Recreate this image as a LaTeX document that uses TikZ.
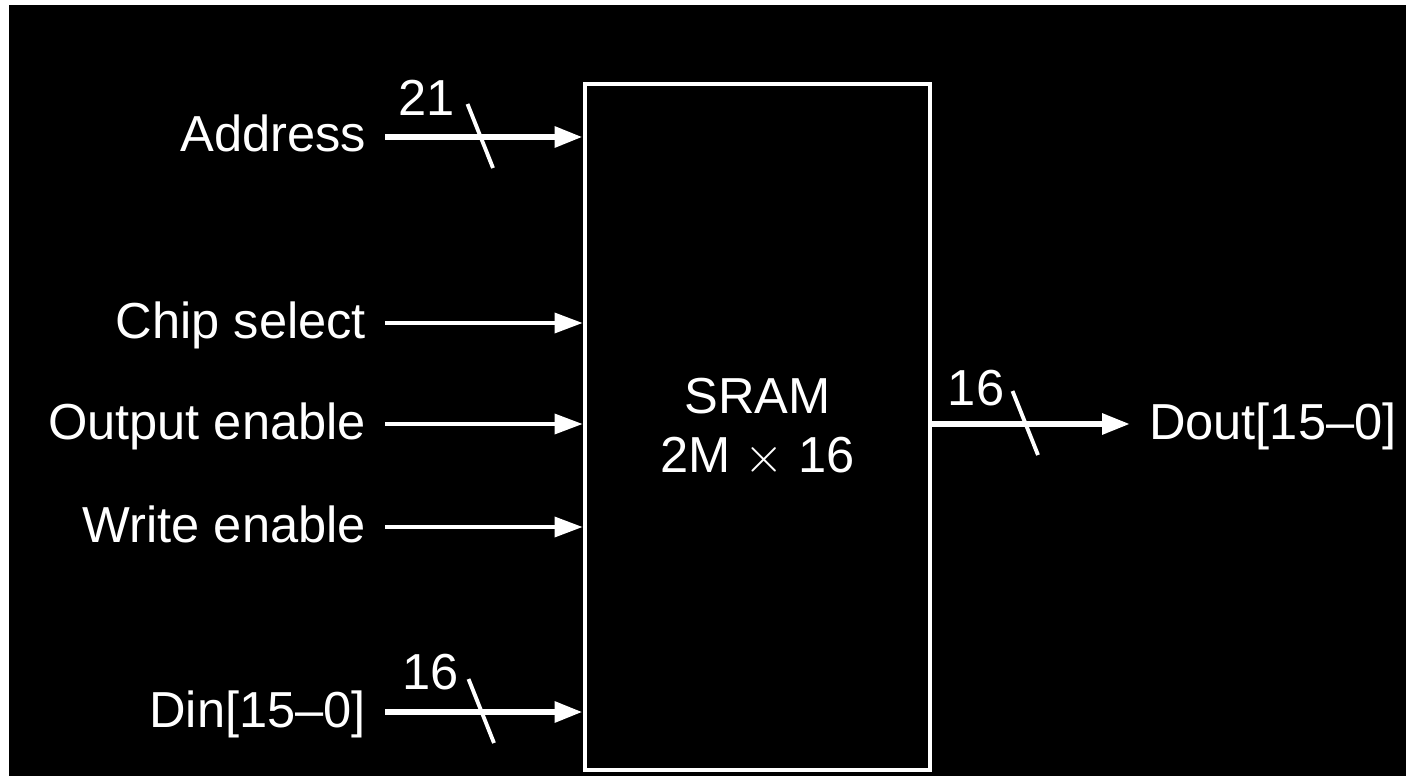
\documentclass[tikz,border=0pt]{standalone}
\usepackage{fontspec}
\setmainfont{Liberation Sans}
\usetikzlibrary{arrows.meta}

\begin{document}
\begin{tikzpicture}[>={Triangle[length=2.8mm,width=2mm]},
  lbl/.style={text=white, inner sep=0pt, outer xsep=1.9mm, text height=3.6mm, text depth=0.6mm, font=\fontsize{14.4}{17}\selectfont},
  num/.style={text=white, inner sep=0pt, font=\fontsize{14.4}{17}\selectfont},
  bus/.style={white, line width=1.7pt},
  sig/.style={white, line width=1pt},
  tick/.style={white, line width=1.1pt}]

  % 背景
  \fill[white] (0,0) rectangle (14.06,7.76);
  \fill[black] (0.09,0) rectangle (14.06,7.71);
  \useasboundingbox (0,0) rectangle (14.06,7.76);

  % 芯片
  \node[draw=white, line width=1.4pt, minimum width=3.45cm, minimum height=6.86cm,
        align=center, text=white, font=\fontsize{14.4}{16.8}\selectfont] (sram) at (7.575,3.49) {SRAM\\2M $\times$ 16};

  % 输入信号
  \node[lbl, anchor=east] (addr) at (3.85,6.39) {Address};
  \node[lbl, anchor=east] (cs) at (3.85,4.53) {Chip select};
  \node[lbl, anchor=east] (oe) at (3.85,3.52) {Output enable};
  \node[lbl, anchor=east] (we) at (3.85,2.49) {Write enable};
  \node[lbl, anchor=east] (din) at (3.85,0.64) {Din[15–0]};

  % 输出信号
  \node[lbl, anchor=west] (dout) at (11.30,3.52) {Dout[15–0]};

  % 连线
  \draw[bus,->] (addr.east) -- (addr.east -| sram.west);
  \draw[sig,->] (cs.east) -- (cs.east -| sram.west);
  \draw[sig,->] (oe.east) -- (oe.east -| sram.west);
  \draw[sig,->] (we.east) -- (we.east -| sram.west);
  \draw[bus,->] (din.east) -- (din.east -| sram.west);
  \draw[bus,->] (sram.east |- dout.west) -- (dout.west);

  % 总线宽度
  \coordinate (ca) at (4.80,6.39);
  \coordinate (cd) at (4.81,0.64);
  \coordinate (co) at (10.25,3.52);
  \foreach \p in {ca,cd,co}
    \draw[tick] ([shift={(-0.125,0.33)}]\p) -- ([shift={(0.13,-0.31)}]\p);

  \node[num] (wa) at (4.27,6.78) {21};
  \node[num] (wd) at (4.31,1.04) {16};
  \node[num] (wo) at (9.76,3.88) {16};

\end{tikzpicture}
\end{document}
